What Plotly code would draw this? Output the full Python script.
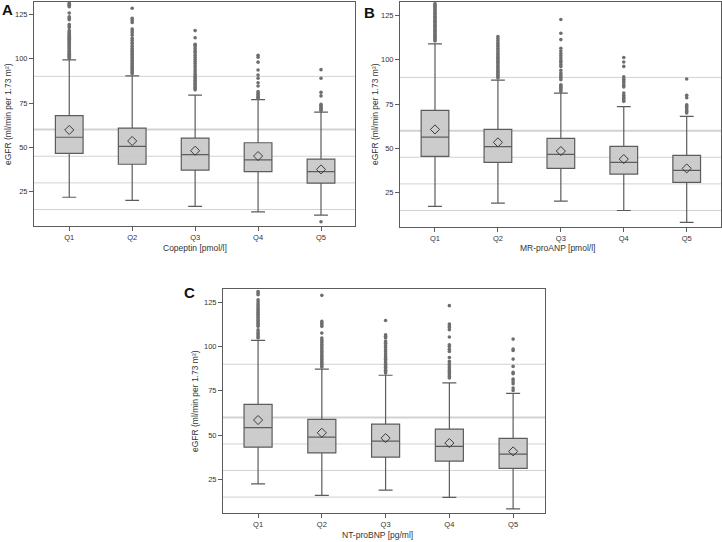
import plotly.graph_objects as go

quintiles = ["Q1", "Q2", "Q3", "Q4", "Q5"]
ref_levels = [15, 30, 45, 60, 90]

# panel A: Copeptin
a_lower = [21.9, 20.1, 16.8, 13.7, 11.8]
a_q1 = [46.6, 40.5, 37.2, 36.3, 29.9]
a_median = [55.7, 50.6, 45.9, 43.0, 36.3]
a_q3 = [67.9, 60.8, 55.2, 52.6, 43.4]
a_upper = [99.3, 90.3, 79.4, 76.9, 69.9]
a_mean = [59.8, 53.6, 48.1, 45.1, 37.6]
a_outliers = [
    [100.0, 100.6, 101.3, 101.8, 102.5, 103.0, 103.7, 104.2, 104.9, 105.4, 106.1, 106.6, 107.3,
     107.8, 108.5, 109.0, 109.7, 110.2, 110.9, 111.4, 112.1, 112.6, 113.3, 113.8, 114.5, 115.0,
     115.8, 117.6, 118.4, 119.2, 121.9, 122.8, 123.6, 125.7, 129.2, 129.9, 130.6, 131.2],
    [91.5, 92.2, 93.0, 93.6, 94.4, 95.1, 95.9, 96.6, 97.4, 98.3, 99.0, 99.9, 100.7, 101.6, 102.4,
     103.3, 104.1, 105.0, 105.8, 107.0, 108.2, 109.1, 110.3, 111.5, 113.2, 114.4, 115.5, 116.7,
     120.4, 121.6, 122.7, 128.4],
    [82.4, 83.1, 83.8, 84.6, 85.3, 86.1, 86.9, 87.8, 88.6, 89.5, 90.4, 91.3, 92.5, 93.6, 94.8,
     96.0, 97.2, 98.4, 99.5, 100.7, 101.9, 103.1, 104.2, 105.4, 106.5, 107.6, 108.1, 111.8, 115.8],
    [77.6, 78.3, 79.0, 79.8, 80.6, 81.4, 84.6, 86.4, 88.9, 90.8, 93.6, 98.0, 100.8, 101.9],
    [8.1, 70.8, 71.5, 72.2, 72.9, 73.6, 74.2, 79.0, 81.0, 88.9, 93.8],
]

# panel B: MR-proANP
b_lower = [17.3, 19.2, 20.3, 15.0, 8.3]
b_q1 = [45.5, 42.1, 38.7, 35.5, 30.8]
b_median = [56.4, 51.0, 46.6, 42.1, 37.6]
b_q3 = [71.4, 60.7, 55.6, 51.1, 46.1]
b_upper = [108.9, 88.5, 81.2, 73.5, 68.0]
b_mean = [60.7, 53.4, 48.5, 44.0, 38.7]
b_outliers = [
    [110.5, 111.1, 111.8, 112.4, 113.1, 113.8, 114.5, 115.2, 115.9, 116.6, 117.3, 118.0, 118.7,
     119.4, 120.1, 120.9, 121.6, 122.3, 123.0, 123.8, 124.5, 125.3, 126.1, 126.9, 127.7, 128.5,
     129.3, 130.1, 130.9, 131.5],
    [89.7, 90.4, 91.1, 91.9, 92.6, 93.4, 94.2, 95.0, 95.8, 96.6, 97.5, 98.3, 99.1, 100.0, 100.8,
     101.7, 102.6, 103.5, 104.5, 105.4, 106.4, 107.5, 108.6, 109.7, 110.8, 111.9, 113.0],
    [82.1, 82.9, 83.7, 84.5, 85.3, 85.9, 88.7, 89.6, 90.5, 91.5, 92.6, 94.0, 96.2, 97.3, 98.5,
     99.6, 100.9, 102.2, 103.5, 104.9, 106.4, 111.3, 114.9, 122.6],
    [76.5, 77.3, 78.2, 79.0, 79.9, 81.2, 84.6, 85.6, 86.8, 87.9, 89.0, 90.3, 96.2, 98.7, 101.2],
    [70.0, 70.9, 71.8, 72.8, 73.7, 74.6, 78.6, 79.9, 89.1],
]

# panel C: NT-proBNP
c_lower = [22.5, 15.9, 18.9, 14.8, 8.3]
c_q1 = [43.2, 39.9, 37.5, 35.3, 31.2]
c_median = [54.2, 48.8, 46.6, 43.6, 39.3]
c_q3 = [67.4, 58.9, 56.2, 53.4, 48.1]
c_upper = [103.5, 87.3, 83.8, 79.5, 73.6]
c_mean = [58.5, 51.3, 48.3, 45.5, 40.8]
c_outliers = [
    [104.8, 105.6, 106.5, 107.4, 108.3, 109.5, 111.4, 112.2, 113.0, 113.9, 114.7, 115.6, 116.5,
     117.4, 118.3, 119.2, 120.1, 121.1, 122.1, 123.2, 124.2, 125.3, 126.4, 129.3, 130.2, 131.1],
    [88.4, 89.2, 90.1, 90.9, 91.8, 92.7, 93.6, 94.5, 95.4, 96.4, 97.3, 98.3, 99.3, 100.3, 101.3,
     102.4, 103.6, 104.8, 107.6, 111.4, 112.4, 113.3, 114.2, 128.9],
    [85.0, 85.8, 86.6, 87.4, 88.3, 89.1, 90.0, 90.9, 91.8, 92.8, 93.8, 94.8, 95.9, 97.0, 98.2,
     99.4, 100.6, 101.8, 102.9, 104.8, 105.8, 106.7, 114.7],
    [82.2, 83.1, 84.1, 85.0, 86.0, 87.0, 88.0, 89.1, 90.3, 91.6, 93.8, 97.2, 98.5, 100.0, 101.0,
     105.4, 109.5, 110.7, 111.7, 112.7, 123.1],
    [75.2, 76.6, 79.0, 80.3, 81.6, 84.6, 85.4, 88.8, 92.9, 97.8, 98.6, 104.2],
]

FONT = "Liberation Sans, Arial, sans-serif"
LINE = "#5c5c5c"

fig = go.Figure()

panels = [
    ("", a_lower, a_q1, a_median, a_q3, a_upper, a_mean, a_outliers),
    ("2", b_lower, b_q1, b_median, b_q3, b_upper, b_mean, b_outliers),
    ("3", c_lower, c_q1, c_median, c_q3, c_upper, c_mean, c_outliers),
]

for sfx, lo, q1, med, q3, up, mean, outs in panels:
    xa, ya = "x" + sfx, "y" + sfx
    fig.add_trace(go.Box(
        x=quintiles, q1=q1, median=med, q3=q3, lowerfence=lo, upperfence=up,
        boxpoints=False, width=0.44, whiskerwidth=0.5,
        fillcolor="rgba(200,200,200,0.92)", line=dict(color=LINE, width=1.2),
        xaxis=xa, yaxis=ya, showlegend=False, hoverinfo="skip",
    ))
    ox, oy = [], []
    for cat, vals in zip(quintiles, outs):
        ox += [cat] * len(vals)
        oy += vals
    fig.add_trace(go.Scatter(
        x=ox, y=oy, mode="markers", xaxis=xa, yaxis=ya, showlegend=False,
        marker=dict(symbol="circle", size=3.6, color="#6e6e6e"),
    ))
    fig.add_trace(go.Scatter(
        x=quintiles, y=mean, mode="markers", xaxis=xa, yaxis=ya, showlegend=False,
        marker=dict(symbol="diamond-open", size=7, color="#3a3a3a", line=dict(width=1)),
    ))
    # reference lines behind the boxes
    for lv in ref_levels:
        fig.add_shape(type="line", xref=xa + " domain", yref=ya, x0=0, x1=1, y0=lv, y1=lv,
                      line=dict(color="#d2d2d2", width=2 if lv == 60 else 1), layer="below")

W, H = 722, 542


def xd(a, b):
    return [a / W, b / W]


def yd(top, bottom):
    return [1 - bottom / H, 1 - top / H]


xcommon = dict(type="category", showline=True, mirror=True, linecolor=LINE, linewidth=1,
               ticks="outside", ticklen=4, tickcolor=LINE, showgrid=False, zeroline=False,
               tickfont=dict(size=7.5, color="#333", family=FONT))
ycommon = dict(showline=True, mirror=True, linecolor=LINE, linewidth=1,
               ticks="outside", ticklen=4, tickcolor=LINE, showgrid=False, zeroline=False,
               tickvals=[25, 50, 75, 100, 125],
               tickfont=dict(size=7.5, color="#333", family=FONT))

fig.update_layout(
    width=W, height=H, margin=dict(l=0, r=0, t=0, b=0),
    paper_bgcolor="white", plot_bgcolor="white",
    font=dict(family=FONT, color="#333"),
    xaxis=dict(domain=xd(34, 355), range=[-0.56, 4.54], anchor="y", **xcommon),
    yaxis=dict(domain=yd(2, 226), range=[5.7, 131.9], anchor="x", **ycommon),
    xaxis2=dict(domain=xd(400, 721), range=[-0.556, 4.545], anchor="y2", **xcommon),
    yaxis2=dict(domain=yd(2, 227), range=[5.7, 132.5], anchor="x2", **ycommon),
    xaxis3=dict(domain=xd(223, 545), range=[-0.55, 4.5], anchor="y3", **xcommon),
    yaxis3=dict(domain=yd(289, 513), range=[6.0, 132.5], anchor="x3", **ycommon),
)

ytitle = "eGFR (ml/min per 1.73 m²)"
notes = [
    # panel letters
    dict(text="<b>A</b>", x=0, y=10, size=15),
    dict(text="<b>B</b>", x=362, y=12, size=15),
    dict(text="<b>C</b>", x=182, y=292, size=15),
    # x-axis titles
    dict(text="Copeptin [pmol/l]", x=195, y=248, size=8.5, center=True),
    dict(text="MR-proANP [pmol/l]", x=557, y=248, size=8.5, center=True),
    dict(text="NT-proBNP [pg/ml]", x=377, y=535, size=8.5, center=True),
]
for n in notes:
    fig.add_annotation(
        text=n["text"], xref="paper", yref="paper", x=n["x"] / W, y=1 - n["y"] / H,
        xanchor="center" if n.get("center") else "left", yanchor="middle",
        showarrow=False, font=dict(size=n["size"], color="#111" if not n.get("center") else "#333",
                                   family=FONT),
    )
for x, y in [(8, 114), (375, 114), (195, 401)]:
    fig.add_annotation(text=ytitle, xref="paper", yref="paper", x=x / W, y=1 - y / H,
                       xanchor="center", yanchor="middle", textangle=-90, showarrow=False,
                       font=dict(size=8.5, color="#333", family=FONT))

# page has a default 8px body margin; drop it so the figure sits at the corner
fig.write_html("out.html", config={"displayModeBar": False},
               post_script="document.body.style.margin='0px';")
